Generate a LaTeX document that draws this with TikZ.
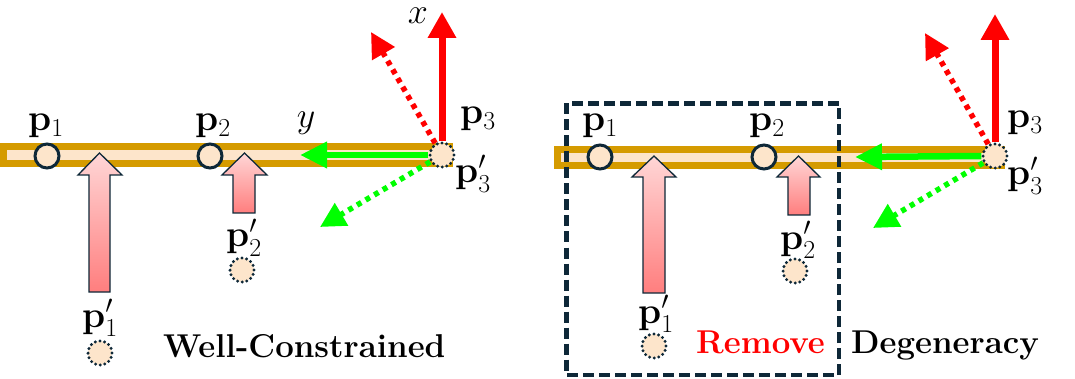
\RequirePackage{fix-cm}
\documentclass[tikz,border=0pt]{standalone}
\usepackage{fontspec}
\setmainfont{Latin Modern Roman}
\usetikzlibrary{arrows.meta}
\definecolor{gold}{HTML}{D59B00}
\definecolor{bisq}{HTML}{FDE5CB}
\definecolor{navy}{HTML}{0E2838}
\definecolor{pinkt}{HTML}{FFD6D6}
\definecolor{pinkb}{HTML}{FF7E7E}
\definecolor{rd}{HTML}{FF0000}
\definecolor{gr}{HTML}{00FF00}
\pgfdeclarelayer{bglow}
\pgfdeclarelayer{bgmid}
\pgfsetlayers{bglow,bgmid,main}
\tikzset{
  barstyle/.style={draw=gold, line width=7pt, fill=bisq},
  ptc/.style={circle, draw=navy, line width=3pt, fill=bisq, minimum size=24pt, inner sep=0pt},
  ptd/.style={circle, draw=navy, line width=3.3pt, fill=bisq, minimum size=24pt, inner sep=0pt, dash pattern=on 0pt off 4.7pt, line cap=round},
  lab/.style={font=\fontsize{37}{40}\selectfont, inner sep=0pt, anchor=base},
  axlab/.style={font=\fontsize{36}{40}\selectfont, inner sep=0pt, anchor=base},
  ttl/.style={font=\fontsize{33}{38}\selectfont\bfseries, inner sep=0pt, anchor=base west},
  redsolid/.style={draw=rd, line width=7pt, -{Triangle[length=26pt,width=27pt]}},
  redsdot/.style={draw=rd, line width=5.5pt, dash pattern=on 5pt off 5pt, -{Triangle[length=25pt,width=25pt]}},
  grsolid/.style={draw=gr, line width=6.5pt, -{Triangle[length=27pt,width=25pt]}},
  grdot/.style={draw=gr, line width=5.5pt, dash pattern=on 5pt off 5pt, -{Triangle[length=25pt,width=25pt]}},
  pinkarr/.style={top color=pinkt, bottom color=pinkb, draw=navy, line width=1.3pt, line join=miter},
  boxstyle/.style={draw=navy, line width=4.5pt, dash pattern=on 11pt off 5pt}
}
\begin{document}
\begin{tikzpicture}[x=1pt,y=-1pt]
\useasboundingbox (0,0) rectangle (1075,379);
% ---------------- left panel ----------------
\begin{pgfonlayer}{bglow}
  \draw[barstyle] (3.5,146.5) rectangle (449.5,163.5);
\end{pgfonlayer}
\node[ptc] (L1) at (47,156) {};
\node[ptc] (L2) at (210,156) {};
\node[ptd] (L3) at (442,155) {};
\node[ptd] (L1p) at (100,353) {};
\node[ptd] (L2p) at (242,270) {};
\coordinate (Lxt) at (442,12);
\coordinate (Lxd) at (371,32);
\coordinate (Lyt) at (300,155);
\coordinate (Lyd) at (320,227);
\begin{pgfonlayer}{bgmid}
  \shade[pinkarr] (89,292) -- (89,175) -- (78,175) -- (99.5,153) -- (122,175) -- (110,175) -- (110,292) -- cycle;
  \shade[pinkarr] (233,213) -- (233,175) -- (222,175) -- (244.5,153) -- (267,175) -- (255,175) -- (255,213) -- cycle;
  \draw[redsdot] (L3.120) -- (Lxd);
  \draw[grdot] (L3.210) -- (Lyd);
  \draw[redsolid] (L3.north) -- (Lxt);
  \draw[grsolid] (L3.west) -- (Lyt);
\end{pgfonlayer}
\node[lab] (Lp1l) at (46,131) {$\mathbf{p}_1$};
\node[lab] (Lp2l) at (213,131) {$\mathbf{p}_2$};
\node[lab] (Lp3l) at (478,124) {$\mathbf{p}_3$};
\node[lab] (Lp3pl) at (473,183) {$\mathbf{p}'_3$};
\node[lab] (Lp1pl) at (100,327) {$\mathbf{p}'_1$};
\node[lab] (Lp2pl) at (244,247) {$\mathbf{p}'_2$};
\node[axlab] (Lx) at (418,24) {$x$};
\node[axlab] (Ly) at (306,128) {$y$};
\node[ttl] (Lt) at (163,357) {Well-Constrained};
% ---------------- right panel ----------------
\begin{pgfonlayer}{bglow}
  \draw[barstyle] (557.5,149.5) rectangle (1001.5,165.5);
\end{pgfonlayer}
\node[ptc] (R1) at (600,157) {};
\node[ptc] (R2) at (764,157) {};
\node[ptd] (R3) at (995,156) {};
\node[ptd] (R1p) at (654,346) {};
\node[ptd] (R2p) at (795,271) {};
\coordinate (Rxt) at (995,14);
\coordinate (Rxd) at (925,33);
\coordinate (Ryt) at (855,157);
\coordinate (Ryd) at (873,228);
\begin{pgfonlayer}{bgmid}
  \shade[pinkarr] (643,293) -- (643,177) -- (632,177) -- (654,156) -- (676,177) -- (665,177) -- (665,293) -- cycle;
  \shade[pinkarr] (788,215) -- (788,177) -- (777,177) -- (798.5,156) -- (820,177) -- (810,177) -- (810,215) -- cycle;
  \draw[redsdot] (R3.120) -- (Rxd);
  \draw[grdot] (R3.210) -- (Ryd);
  \draw[redsolid] (R3.north) -- (Rxt);
  \draw[grsolid] (R3.west) -- (Ryt);
\end{pgfonlayer}
\node[lab] (Rp1l) at (600,131) {$\mathbf{p}_1$};
\node[lab] (Rp2l) at (767,131) {$\mathbf{p}_2$};
\node[lab] (Rp3l) at (1025,128) {$\mathbf{p}_3$};
\node[lab] (Rp3pl) at (1025,185) {$\mathbf{p}'_3$};
\node[lab] (Rp1pl) at (656,323) {$\mathbf{p}'_1$};
\node[lab] (Rp2pl) at (798,249) {$\mathbf{p}'_2$};
\draw[boxstyle] (566.5,103.5) rectangle (839,375);
\node[ttl, text=rd] (Rrem) at (696,353) {Remove};
\node[ttl] (Rdeg) at (851,353) {Degeneracy};
\end{tikzpicture}
\end{document}
